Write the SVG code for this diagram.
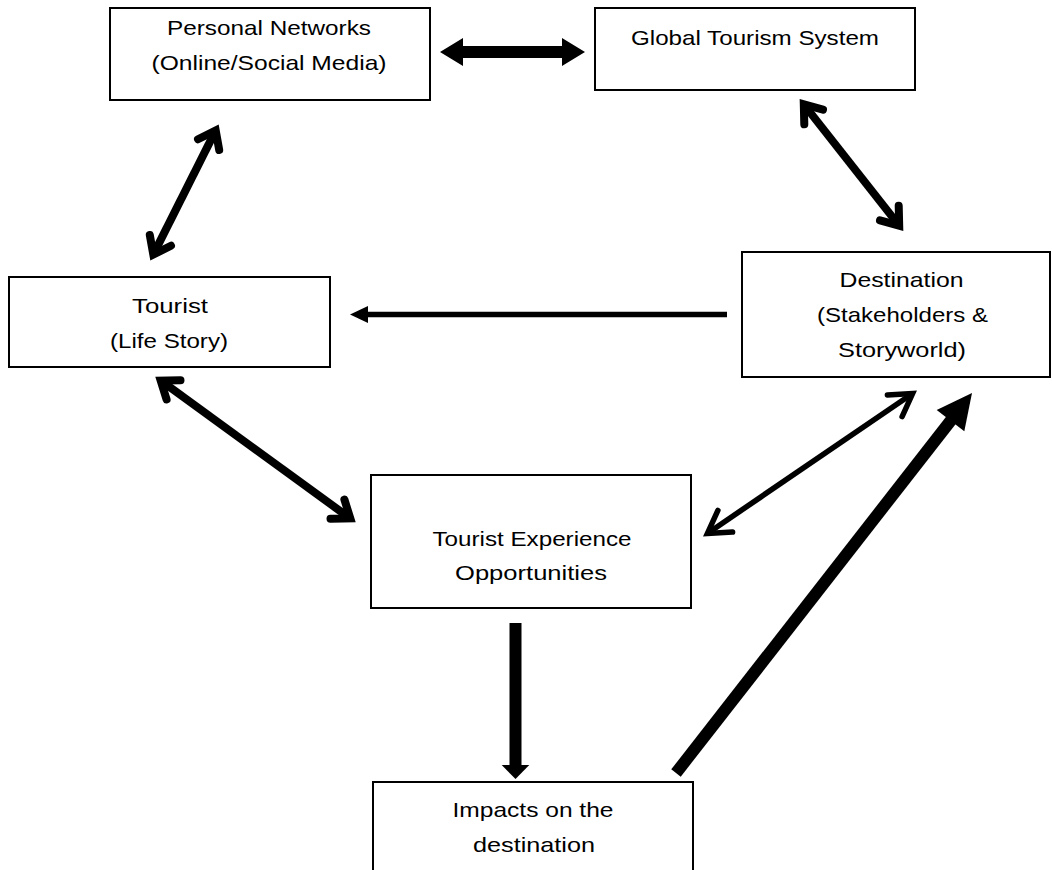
<svg xmlns="http://www.w3.org/2000/svg" width="1052" height="870" viewBox="0 0 1052 870">
<style>
.box{fill:#fff;stroke:#000;stroke-width:2}
.t{font-family:"Liberation Sans",Arial,sans-serif;font-size:21px;fill:#000;text-anchor:middle}
.sh{fill:none;stroke:#000;stroke-linecap:butt}
.ch{fill:none;stroke:#000;stroke-linecap:round;stroke-linejoin:miter;stroke-miterlimit:10}
.w8{stroke-width:8}
.w5{stroke-width:5.5}
.f{fill:#000;stroke:none}
</style>
<rect width="1052" height="870" fill="#fff"/>
<g id="personal">
<rect class="box" x="110" y="8" width="320" height="92"/>
<text class="t" x="269" y="35" textLength="204" lengthAdjust="spacingAndGlyphs">Personal Networks</text>
<text class="t" x="269" y="70" textLength="235" lengthAdjust="spacingAndGlyphs">(Online/Social Media)</text>
</g>
<g id="global">
<rect class="box" x="595" y="8" width="320" height="82"/>
<text class="t" x="755" y="45" textLength="248" lengthAdjust="spacingAndGlyphs">Global Tourism System</text>
</g>
<g id="tourist">
<rect class="box" x="9" y="277" width="321" height="90"/>
<text class="t" x="170" y="313" textLength="76" lengthAdjust="spacingAndGlyphs">Tourist</text>
<text class="t" x="169" y="348" textLength="118" lengthAdjust="spacingAndGlyphs">(Life Story)</text>
</g>
<g id="destination">
<rect class="box" x="742" y="252" width="308" height="125"/>
<text class="t" x="901.5" y="287" textLength="124" lengthAdjust="spacingAndGlyphs">Destination</text>
<text class="t" x="902.5" y="322" textLength="171" lengthAdjust="spacingAndGlyphs">(Stakeholders &amp;</text>
<text class="t" x="902" y="357" textLength="128" lengthAdjust="spacingAndGlyphs">Storyworld)</text>
</g>
<g id="experience">
<rect class="box" x="371" y="475" width="320" height="133"/>
<text class="t" x="532" y="546" textLength="199" lengthAdjust="spacingAndGlyphs">Tourist Experience</text>
<text class="t" x="531" y="580" textLength="152" lengthAdjust="spacingAndGlyphs">Opportunities</text>
</g>
<g id="impacts">
<rect class="box" x="373" y="782" width="320" height="110"/>
<text class="t" x="533" y="817" textLength="161" lengthAdjust="spacingAndGlyphs">Impacts on the</text>
<text class="t" x="534" y="852" textLength="122" lengthAdjust="spacingAndGlyphs">destination</text>
</g>
<g id="connectors">
<!-- Personal <-> Global -->
<polygon class="f" points="440,52 463,38 463,46 562,46 562,38 585,52 562,66 562,58 463,58 463,66"/>
<!-- Personal <-> Tourist -->
<line class="sh w8" x1="215.7" y1="130.4" x2="153.3" y2="254.6"/>
<path class="ch w8" d="M198,139.3 L215.7,130.4 L219.2,150"/>
<path class="ch w8" d="M171,245.7 L153.3,254.6 L149.8,235"/>
<!-- Global <-> Destination -->
<line class="sh w8" x1="803.8" y1="104.4" x2="899.2" y2="225.6"/>
<path class="ch w8" d="M804.3,124.3 L803.8,104.4 L823,109.7"/>
<path class="ch w8" d="M898.7,205.7 L899.2,225.6 L880,220.3"/>
<!-- Destination -> Tourist -->
<line class="sh" stroke-width="5.5" x1="366" y1="314.5" x2="727" y2="314.5"/>
<polygon class="f" points="350,314.5 368,306 368,323"/>
<!-- Tourist <-> Experience -->
<line class="sh w8" x1="160.7" y1="380.6" x2="350.3" y2="518.4"/>
<path class="ch w8" d="M166.6,399.5 L160.7,380.6 L180.5,380.3"/>
<path class="ch w8" d="M344.4,499.5 L350.3,518.4 L330.5,518.7"/>
<!-- Destination <-> Experience -->
<line class="sh w5" x1="912.6" y1="393.6" x2="707.4" y2="533.4"/>
<path class="ch w5" d="M887.4,394.9 L912.6,393.6 L902.1,416.6"/>
<path class="ch w5" d="M732.6,532.1 L707.4,533.4 L717.9,510.4"/>
<!-- Experience -> Impacts -->
<rect class="f" x="509.5" y="623" width="12" height="143"/>
<polygon class="f" points="501.7,765 529.3,765 515.5,779"/>
<!-- Impacts -> Destination -->
<line class="sh" stroke-width="12" x1="676" y1="773" x2="952" y2="419"/>
<polygon class="f" points="972,393 936.7,409.9 964.3,431.3"/>
</g>
</svg>
